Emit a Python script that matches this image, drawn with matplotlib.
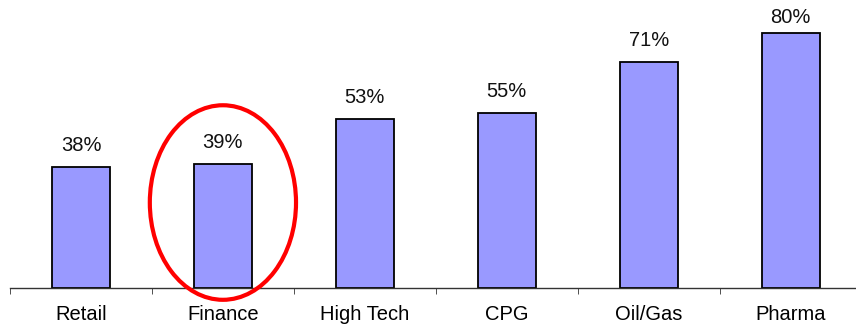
import matplotlib
matplotlib.use('Agg')
import matplotlib.pyplot as plt
from matplotlib.patches import Ellipse
import numpy as np

plt.rcParams['font.family'] = ['Liberation Sans', 'DejaVu Sans']

categories = ['Retail', 'Finance', 'High Tech', 'CPG', 'Oil/Gas', 'Pharma']
values = [38, 39, 53, 55, 71, 80]
labels = ['38%', '39%', '53%', '55%', '71%', '80%']

fig = plt.figure(figsize=(8.56, 3.25), dpi=100)
ax = fig.add_axes([10/856, 37/325, 846/856, 288/325])

x = np.arange(len(categories))
ax.bar(x, values, width=0.41, color='#9999FF', edgecolor='black', linewidth=1.3)

# labels above bars, the top one is squeezed down by the plot edge
for xi, v, lab in zip(x, values, labels):
    ax.text(xi, min(v + 4.9, 83), lab, ha='center', va='baseline',
            fontsize=14.5, color='#111111')

# highlight Finance
ell = Ellipse((1, 26.8), width=1.03, height=61, fill=False, edgecolor='red',
              linewidth=3, clip_on=False, zorder=5)
ax.add_patch(ell)

ax.set_xlim(-0.5, 5.46)
ax.set_ylim(0, 90.3)

for s in ['top', 'right', 'left']:
    ax.spines[s].set_visible(False)
ax.spines['bottom'].set_color('#333333')
ax.spines['bottom'].set_linewidth(1)

ax.set_yticks([])
ax.set_xticks(x)
ax.set_xticklabels(categories, fontsize=14.5)
ax.tick_params(axis='x', which='major', length=0, pad=12)
ax.set_xticks(np.arange(-0.5, 5.5, 1), minor=True)
ax.tick_params(axis='x', which='minor', length=4, direction='out', color='#333333')

fig.savefig('out.png', dpi=100)
